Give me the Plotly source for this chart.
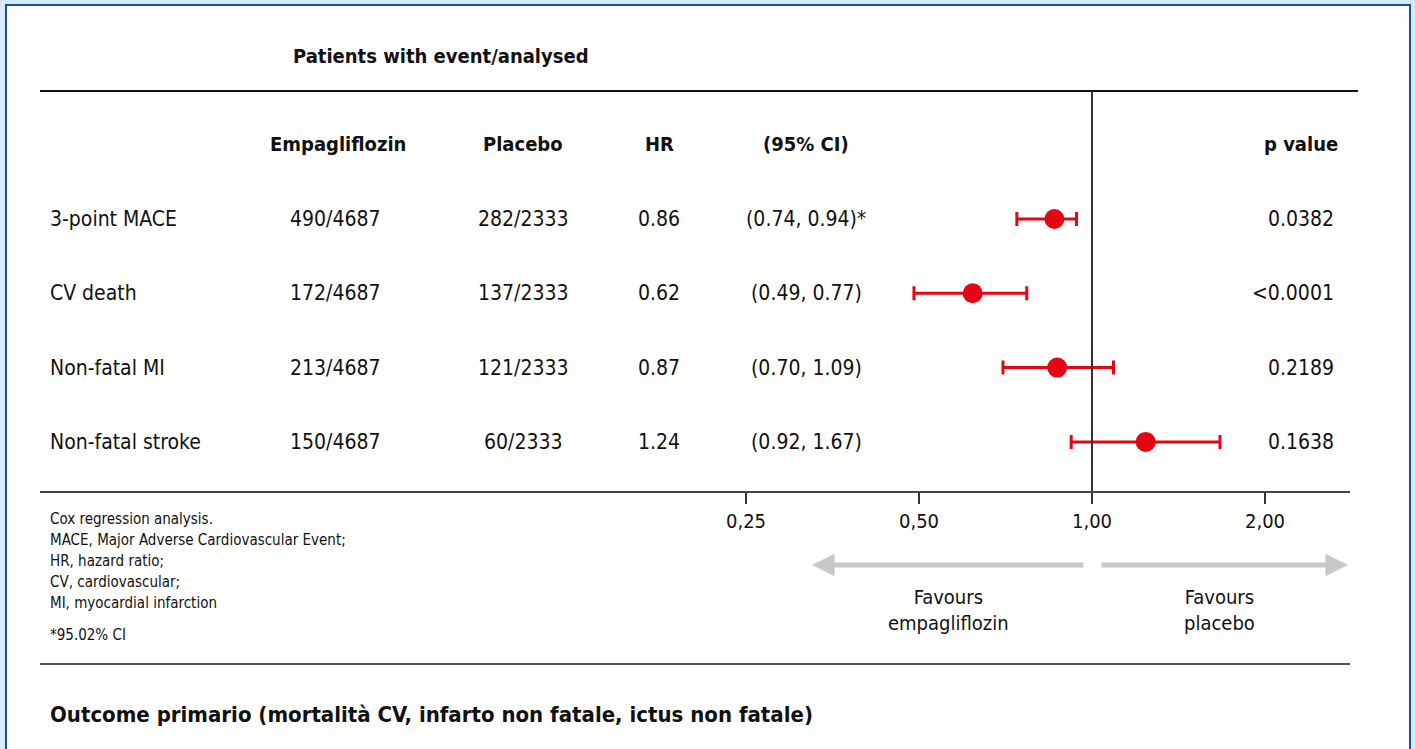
import math
import plotly.graph_objects as go

# ---- data -------------------------------------------------------------
outcomes = ["3-point MACE", "CV death", "Non-fatal MI", "Non-fatal stroke"]
empa_events = ["490/4687", "172/4687", "213/4687", "150/4687"]
placebo_events = ["282/2333", "137/2333", "121/2333", "60/2333"]
hr = [0.86, 0.62, 0.87, 1.24]
ci_low = [0.74, 0.49, 0.70, 0.92]
ci_high = [0.94, 0.77, 1.09, 1.67]
ci_note = ["*", "", "", ""]
p_values = ["0.0382", "<0.0001", "0.2189", "0.1638"]
tick_vals = [0.25, 0.5, 1.0, 2.0]
tick_text = ["0,25", "0,50", "1,00", "2,00"]

W, H = 1415, 749
FONT = "Liberation Sans Narrow, DejaVu Sans Condensed, Roboto, sans-serif"
RED = "#e30613"
rows = list(range(len(outcomes)))


def px(x):
    return x / W


def py(y):
    return 1 - y / H


fig = go.Figure()

# forest markers with confidence intervals
fig.add_trace(go.Scatter(
    x=hr, y=rows, mode="markers",
    marker=dict(size=20, color=RED),
    error_x=dict(type="data", symmetric=False,
                 array=[h - m for h, m in zip(ci_high, hr)],
                 arrayminus=[m - l for m, l in zip(hr, ci_low)],
                 color=RED, thickness=3, width=7),
    hoverinfo="skip", showlegend=False,
))

annotations = []


def text(x, y, s, size=21, anchor="center", bold=False, yref="paper", color="#111"):
    annotations.append(dict(
        x=px(x), y=(py(y) if yref == "paper" else y), xref="paper", yref=yref,
        text=f"<b>{s}</b>" if bold else s, showarrow=False,
        xanchor=anchor, yanchor="middle",
        font=dict(family=FONT, size=size, color=color),
    ))


# headers
text(441, 56, "Patients with event/analysed", size=20, bold=True)
text(338, 144, "Empagliflozin", size=20, bold=True)
text(523, 144, "Placebo", size=20, bold=True)
text(659, 144, "HR", size=20, bold=True)
text(806, 144, "(95% CI)", size=20, bold=True)
text(1340, 144, "p value", size=20, bold=True, anchor="right")

# table rows
for i in rows:
    text(48, i, outcomes[i], anchor="left", yref="y")
    text(335, i, empa_events[i], yref="y")
    text(523, i, placebo_events[i], yref="y")
    text(659, i, f"{hr[i]:.2f}", yref="y")
    text(806, i, f"({ci_low[i]:.2f}, {ci_high[i]:.2f}){ci_note[i]}", yref="y")
    text(1336, i, p_values[i], anchor="right", yref="y")

# footnotes
notes = ["Cox regression analysis.", "MACE, Major Adverse Cardiovascular Event;",
         "HR, hazard ratio;", "CV, cardiovascular;", "MI, myocardial infarction"]
for k, n in enumerate(notes):
    text(48, 519 + 21 * k, n, size=15, anchor="left")
text(48, 635, "*95.02% CI", size=15, anchor="left")

# favours labels
text(948, 610, "Favours<br>empagliflozin", size=20)
text(1219, 610, "Favours<br>placebo", size=20)

# bottom title
text(48, 714, "Outcome primario (mortalità CV, infarto non fatale, ictus non fatale)",
     size=22, bold=True, anchor="left")

# direction arrows
arrow_col = "#c8c8c8"
for x0, x1 in [(1085, 812), (1100, 1348)]:
    annotations.append(dict(
        x=px(x1), y=py(565), ax=x0 - x1, ay=0,
        xref="paper", yref="paper", axref="pixel", ayref="pixel",
        text="", showarrow=True, arrowhead=2, arrowsize=0.9,
        arrowwidth=5, arrowcolor=arrow_col,
    ))

shapes = [
    # white panel with blue frame
    dict(type="rect", xref="paper", yref="paper", x0=px(6), x1=px(1410),
         y0=py(760), y1=py(5), fillcolor="white",
         line=dict(color="#1f4e8c", width=2), layer="below"),
    # top rule
    dict(type="line", xref="paper", yref="paper", x0=px(40), x1=px(1358),
         y0=py(91), y1=py(91), line=dict(color="#111", width=2)),
    # null line at HR = 1
    dict(type="line", xref="x", yref="paper", x0=1, x1=1,
         y0=py(91), y1=py(492), line=dict(color="#333", width=2)),
    # axis rule
    dict(type="line", xref="paper", yref="paper", x0=px(40), x1=px(1350),
         y0=py(492), y1=py(492), line=dict(color="#444", width=2)),
    # lower rule
    dict(type="line", xref="paper", yref="paper", x0=px(40), x1=px(1350),
         y0=py(664), y1=py(664), line=dict(color="#555", width=2)),
]

# log axis: HR 1 at x=1092 px, one doubling per 173 px
L, R, X1, DBL = 700, 1350, 1092, 173
lo = (L - X1) / DBL * math.log10(2)
hi = (R - X1) / DBL * math.log10(2)

# rows: first row at 219 px, spacing 74.3 px
Y0, DY = 219, 74.3
y_top = -Y0 / DY
y_bot = (H - Y0) / DY

fig.update_layout(
    width=W, height=H,
    margin=dict(l=0, r=0, t=0, b=0),
    paper_bgcolor="#d5eaf9", plot_bgcolor="rgba(0,0,0,0)",
    xaxis=dict(type="log", range=[lo, hi], domain=[L / W, R / W],
               anchor="free", position=1 - 492 / H,
               tickvals=tick_vals, ticktext=tick_text,
               ticks="outside", ticklen=11, tickwidth=1.5, tickcolor="#333",
               tickfont=dict(family=FONT, size=20, color="#111"),
               showgrid=False, zeroline=False, showline=False, fixedrange=True),
    yaxis=dict(range=[y_bot, y_top], domain=[0, 1], visible=False,
               showgrid=False, zeroline=False, fixedrange=True),
    annotations=annotations, shapes=shapes,
    showlegend=False,
)

fig.write_html("out.html")
